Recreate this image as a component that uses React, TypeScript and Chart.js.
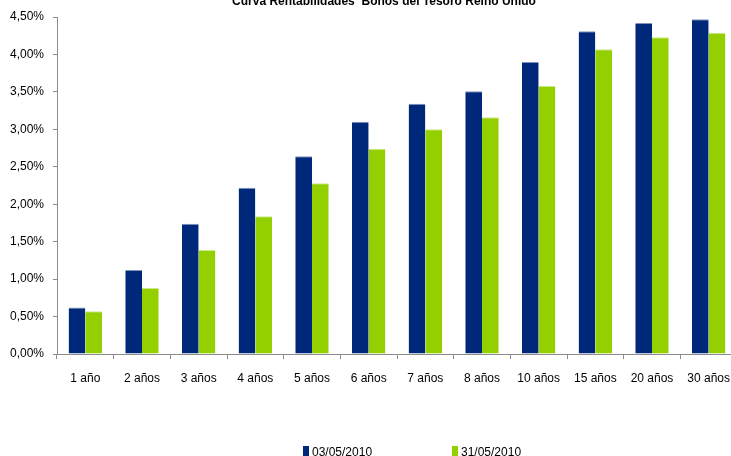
import React, { useEffect, useRef } from "react";
import { Chart, registerables } from "chart.js";

Chart.register(...registerables);

const TITLE = "Curva Rentabilidades  Bonos del Tesoro Reino Unido";
const categories = ["1 año", "2 años", "3 años", "4 años", "5 años", "6 años", "7 años", "8 años", "10 años", "15 años", "20 años", "30 años"];
const seriesA = [0.62, 1.12, 1.74, 2.22, 2.64, 3.10, 3.34, 3.51, 3.90, 4.31, 4.42, 4.47];
const seriesB = [0.57, 0.88, 1.39, 1.84, 2.28, 2.74, 3.00, 3.16, 3.58, 4.07, 4.23, 4.29];
const labelA = "03/05/2010";
const labelB = "31/05/2010";
const colorA = "#00287A";
const colorB = "#94D000";
const edgeA = "#7f93bd";
const edgeB = "#c9ea85";
const FONT = "'Liberation Sans', Arial, sans-serif";

const decorPlugin = {
  id: "decor",
  afterDraw(chart: any) {
    const ctx = chart.ctx;
    ctx.save();
    ctx.fillStyle = "#000";
    ctx.font = `bold 12px ${FONT}`;
    ctx.textAlign = "center";
    ctx.textBaseline = "alphabetic";
    ctx.fillText(TITLE, 384, 5);
    const items = [
      { x: 303, label: chart.data.datasets[0].label, color: chart.data.datasets[0].backgroundColor },
      { x: 452, label: chart.data.datasets[1].label, color: chart.data.datasets[1].backgroundColor },
    ];
    ctx.font = `12px ${FONT}`;
    ctx.textAlign = "left";
    for (const it of items) {
      ctx.fillStyle = it.color;
      ctx.fillRect(it.x, 446, 6, 10);
      ctx.fillStyle = "#000";
      ctx.fillText(it.label, it.x + 9, 456);
    }
    ctx.restore();
  },
};

export default function App() {
  const ref = useRef<HTMLCanvasElement>(null);
  useEffect(() => {
    if (!ref.current) return;
    const chart = new Chart(ref.current, {
      type: "bar",
      data: {
        labels: categories,
        datasets: [
          { label: labelA, data: seriesA, backgroundColor: colorA, borderColor: edgeA, borderWidth: { top: 1, right: 0, bottom: 0, left: 0 }, borderSkipped: "bottom", categoryPercentage: 0.59, barPercentage: 1.0 },
          { label: labelB, data: seriesB, backgroundColor: colorB, borderColor: edgeB, borderWidth: { top: 1, right: 0, bottom: 0, left: 0 }, borderSkipped: "bottom", categoryPercentage: 0.59, barPercentage: 1.0 },
        ],
      },
      options: {
        responsive: false,
        animation: false,
        layout: { padding: { top: 17, right: 31, bottom: 72, left: 0 } },
        plugins: {
          legend: { display: false },
          title: { display: false },
          tooltip: { enabled: false },
        },
        scales: {
          x: {
            offset: true,
            grid: { offset: true, drawOnChartArea: false, drawTicks: true, tickLength: 5, color: "#8c8c8c" },
            border: { color: "#8c8c8c", width: 1 },
            ticks: { color: "#000", font: { family: FONT, size: 12 }, padding: 12, maxRotation: 0, autoSkip: false },
            afterFit: (s: any) => { s.height = 30; },
          },
          y: {
            min: 0,
            max: 4.5,
            grid: { drawOnChartArea: false, drawTicks: true, tickLength: 4, color: "#8c8c8c" },
            border: { color: "#8c8c8c", width: 1 },
            ticks: {
              stepSize: 0.5,
              color: "#000",
              padding: 9,
              font: { family: FONT, size: 12 },
              callback: (v: any) => Number(v).toFixed(2).replace(".", ",") + "%",
            },
            afterFit: (s: any) => { s.width = 57; },
          },
        },
      },
      plugins: [decorPlugin],
    });
    return () => chart.destroy();
  }, []);
  return (
    <div style={{ position: "fixed", left: 0, top: 0, width: 731, height: 456, overflow: "hidden", background: "#fff" }}>
      <canvas ref={ref} width={768} height={456} style={{ display: "block" }} />
    </div>
  );
}
